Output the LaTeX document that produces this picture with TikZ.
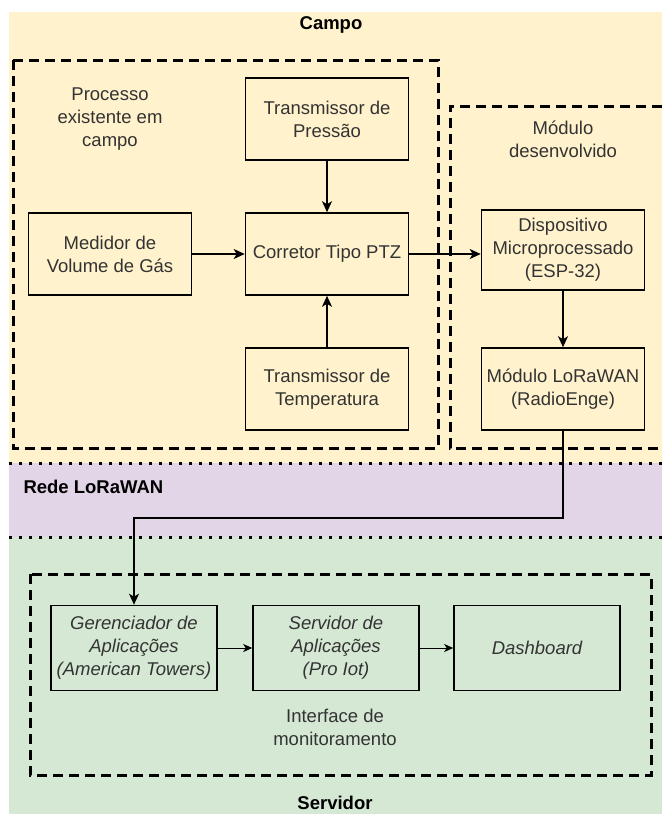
\documentclass[tikz,border=0pt]{standalone}
\usepackage{fontspec}
\setmainfont{Liberation Sans}
\usetikzlibrary{arrows.meta}
\definecolor{campo}{HTML}{FFF2CC}
\definecolor{rede}{HTML}{E1D5E7}
\definecolor{servidor}{HTML}{D5E8D4}
\definecolor{texto}{HTML}{333333}

\begin{document}
\begin{tikzpicture}[x=1pt, y=-1pt,
  font=\fontsize{18.5}{23}\selectfont,
  bloco/.style={draw, line width=1.6pt, minimum width=163pt, minimum height=82pt, inner sep=0pt, align=center, text=texto},
  blocoit/.style={bloco, minimum width=166pt, minimum height=85pt, font=\fontsize{18.5}{23}\selectfont\itshape},
  tracejado/.style={line width=3pt, dash pattern=on 10pt off 6pt},
  pontilhado/.style={line width=3pt, dash pattern=on 3pt off 7pt},
  seta/.style={line width=1.6pt, -{Stealth[length=11pt,width=10pt,inset=3pt]}},
  setafina/.style={line width=1pt, -{Stealth[length=9pt,width=8pt,inset=2.5pt]}},
  rotulo/.style={align=center, text=texto},
  titulo/.style={font=\fontsize{18.5}{23}\selectfont\bfseries}]

\useasboundingbox (0,0) rectangle (662,814);
\fill[white] (0,0) rectangle (662,814);

\fill[campo] (9,12) rectangle (662,463);
\fill[rede] (9,463) rectangle (662,537);
\fill[servidor] (9,537) rectangle (662,814);
\draw[pontilhado] (9,463) -- (662,463)  (9,537) -- (662,537);

\draw (331,25) node[titulo] (tcampo) {Campo};
\draw (20,487) node[titulo, anchor=west] (trede) {Rede LoRaWAN};
\draw (335,803) node[titulo] (tserv) {Servidor};

\draw[tracejado] (13,60) rectangle (438,448);
\draw[tracejado] (662,106) -- (450,106) -- (450,448) -- (662,448);
\draw[tracejado] (30,574) rectangle (651,775);

\draw (110,119) node[rotulo] (tproc) {Processo\\existente em\\campo};
\draw (563,139) node[rotulo] (tmod) {Módulo\\desenvolvido};
\draw (335,727) node[rotulo] (tint) {Interface de\\monitoramento};

\draw (327,119) node[bloco] (tp) {Transmissor de\\Pressão};
\draw (110,254) node[bloco] (med) {Medidor de\\Volume de Gás};
\draw (327,254) node[bloco] (ptz) {Corretor Tipo PTZ};
\draw (327,389) node[bloco] (tt) {Transmissor de\\Temperatura};
\draw[seta] (tp) to (ptz);
\draw[seta] (tt) to (ptz);
\draw[seta] (med) to (ptz);

\draw (563,250) node[bloco, minimum height=80pt] (esp) {Dispositivo\\Microprocessado\\(ESP-32)};
\draw (563,389) node[bloco] (lora) {Módulo LoRaWAN\\(RadioEnge)};
\draw[seta] (ptz.east) to (ptz.east -| esp.west);
\draw[seta] (esp) to (lora);

\draw (134,648) node[blocoit] (ger) {Gerenciador de\\Aplicações\\(American Towers)};
\draw (336,648) node[blocoit] (srv) {Servidor de\\Aplicações\\(Pro Iot)};
\draw (537,648) node[blocoit] (dash) {Dashboard};
\draw[seta] (lora.south) -- ++(0,87) -| (ger.north);
\draw[setafina] (ger) to (srv);
\draw[setafina] (srv) to (dash);

\end{tikzpicture}
\end{document}
